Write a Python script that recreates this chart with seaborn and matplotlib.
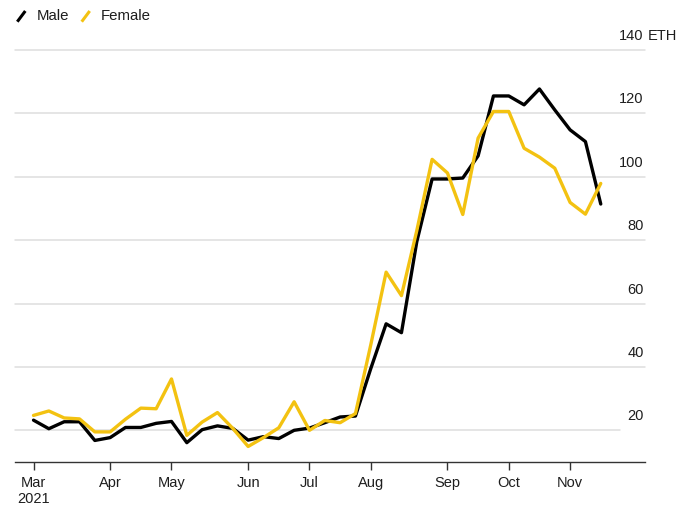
import matplotlib
matplotlib.use("Agg")
import matplotlib.pyplot as plt
import matplotlib.dates as mdates
from matplotlib.lines import Line2D
import seaborn as sns
import pandas as pd
import numpy as np

# ---- data ----
weeks = pd.date_range("2021-03-01", periods=38, freq="7D")
male = [23.2, 20.5, 22.7, 22.7, 16.8, 17.7, 20.9, 20.9, 22.2, 22.8,
        16.1, 20.2, 21.4, 20.6, 16.9, 18.0, 17.4, 20.0, 20.7, 22.4,
        24.2, 24.5, 39.5, 53.6, 50.8, 79.5, 99.3, 99.3, 99.6, 106.6,
        125.5, 125.5, 122.7, 127.7, 121.1, 114.8, 111.1, 91.4]
female = [24.7, 26.1, 23.9, 23.6, 19.5, 19.5, 23.5, 27.0, 26.8, 36.2,
          18.4, 22.6, 25.6, 20.6, 14.9, 17.7, 20.8, 29.0, 20.0, 23.1,
          22.4, 25.3, 47.0, 69.9, 62.5, 83.0, 105.5, 101.2, 88.1, 112.2,
          120.6, 120.6, 109.0, 106.2, 102.7, 91.9, 88.2, 97.9]
series_names = ["Male", "Female"]
tick_dates = pd.to_datetime(["2021-03-01", "2021-04-05", "2021-05-03", "2021-06-07",
                             "2021-07-05", "2021-08-02", "2021-09-06", "2021-10-04",
                             "2021-11-01"])
tick_labels = ["Mar\n2021", "Apr", "May", "Jun", "Jul", "Aug", "Sep", "Oct", "Nov"]
y_ticks = [20, 40, 60, 80, 100, 120, 140]
unit = "ETH"

colors = {"Male": "#000000", "Female": "#F3C211"}
text_color = "#1e1e1e"

df = pd.DataFrame({
    "week": list(weeks) + list(weeks),
    "eth": male + female,
    "sex": ["Male"] * len(male) + ["Female"] * len(female),
})

sns.set_theme(style="white")
plt.rcParams["font.family"] = ["Liberation Sans", "DejaVu Sans"]

W, H = 687, 517
fig = plt.figure(figsize=(W / 100, H / 100), dpi=100)
fig.patch.set_facecolor("white")
ax_left, ax_right, ax_bottom, ax_top = 15, 645, 462, 50
ax = fig.add_axes([ax_left / W, 1 - ax_bottom / H, (ax_right - ax_left) / W, (ax_bottom - ax_top) / H])

# gridlines
for v in y_ticks:
    ax.axhline(v, xmin=0, xmax=(0.96 if v == 20 else 1.0), color="#dedede", lw=1.1,
               zorder=0, clip_on=False)

sns.lineplot(data=df, x="week", y="eth", hue="sex", hue_order=series_names,
             palette=colors, linewidth=2.4, legend=False, ax=ax, zorder=3)

ax.set_ylim(10, 140)
x0 = mdates.date2num(weeks[0])
ax.set_xlim(x0 - 8.45, x0 + 279.2)
ax.set_yticks([])
ax.set_xticks(tick_dates)
ax.set_xticklabels(tick_labels, fontsize=10.5, color=text_color)
ax.tick_params(axis="x", bottom=True, length=6, width=1, color="#333333", pad=4,
               direction="out")
ax.set_xlabel("")
ax.set_ylabel("")
for s in ["top", "left", "right"]:
    ax.spines[s].set_visible(False)
ax.spines["bottom"].set_color("#333333")
ax.spines["bottom"].set_linewidth(1.0)

# y labels above gridlines on the right
for v in y_ticks:
    ax.annotate(str(v), xy=(1.0, v), xycoords=("axes fraction", "data"),
                xytext=(-1, 10), textcoords="offset points", ha="right", va="center",
                fontsize=10.5, color=text_color, annotation_clip=False)
ax.annotate(unit, xy=(1.0, y_ticks[-1]), xycoords=("axes fraction", "data"),
            xytext=(2, 10), textcoords="offset points", ha="left", va="center",
            fontsize=10.5, color=text_color, annotation_clip=False)

# legend
legend_pos = {"Male": (17.3, 36.7), "Female": (81.7, 100.5)}
for name in series_names:
    lx, tx = legend_pos[name]
    fig.add_artist(Line2D([lx / W, (lx + 8) / W], [1 - 21.7 / H, 1 - 11 / H],
                          color=colors[name], lw=2.2, solid_capstyle="butt"))
    fig.text(tx / W, 1 - 16.5 / H, name, fontsize=10.8, color=text_color,
             ha="left", va="center")

fig.savefig("out.png", dpi=100, facecolor="white")
